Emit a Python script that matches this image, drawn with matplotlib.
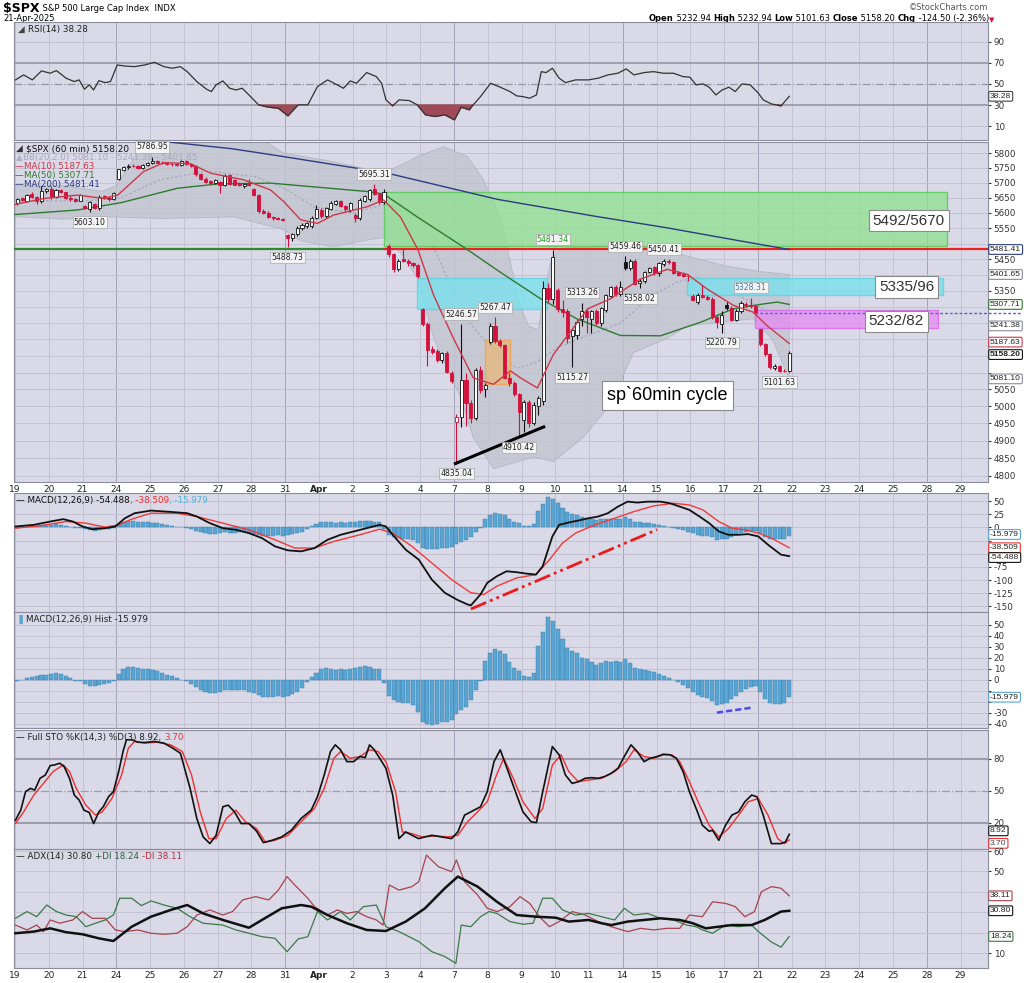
import numpy as np
import matplotlib
matplotlib.use("Agg")
import matplotlib.pyplot as plt
from matplotlib.patches import Rectangle
from matplotlib.ticker import FixedLocator, NullLocator, FixedFormatter

# ---------------- data ----------------
day_labels = ['19', '20', '21', '24', '25', '26', '27', '28', '31', 'Apr', '2', '3', '4', '7',
              '8', '9', '10', '11', '14', '15', '16', '17', '21', '22', '23', '24', '25', '28', '29']
monday_idx = [3, 8, 13, 18, 22, 27]

# hourly candles (open, high, low, close), 7 bars per session, Mar 19 .. Apr 21
candles = [
    (5632, 5650, 5625, 5646), (5648, 5652, 5638, 5642), (5640, 5664, 5636, 5660), (5662, 5668, 5650, 5654), (5652, 5656, 5630, 5638), (5638, 5690, 5632, 5672), (5672, 5684, 5666, 5678),
    (5678, 5690, 5645, 5652), (5652, 5680, 5648, 5675), (5675, 5678, 5665, 5668), (5668, 5670, 5645, 5650), (5650, 5656, 5640, 5645), (5646, 5650, 5636, 5640), (5640, 5662, 5638, 5658),
    (5622, 5626, 5612, 5615), (5612, 5640, 5603.10, 5635), (5628, 5632, 5612, 5617), (5615, 5660, 5610, 5654), (5655, 5660, 5645, 5650), (5650, 5656, 5640, 5646), (5646, 5670, 5642, 5666),
    (5713, 5748, 5710, 5745), (5744, 5755, 5740, 5752), (5752, 5762, 5748, 5758), (5758, 5762, 5752, 5755), (5756, 5760, 5748, 5750), (5750, 5764, 5746, 5760), (5760, 5770, 5756, 5767),
    (5767, 5786.95, 5762, 5772), (5772, 5776, 5765, 5768), (5768, 5772, 5762, 5766), (5767, 5770, 5760, 5763), (5764, 5768, 5758, 5762), (5763, 5766, 5756, 5760), (5760, 5778, 5756, 5775),
    (5772, 5778, 5760, 5764), (5764, 5768, 5752, 5757), (5757, 5760, 5724, 5728), (5728, 5732, 5710, 5714), (5714, 5718, 5700, 5703), (5705, 5710, 5695, 5700), (5700, 5712, 5696, 5710),
    (5702, 5706, 5665, 5693), (5693, 5728, 5688, 5724), (5726, 5730, 5692, 5695), (5708, 5712, 5692, 5694), (5700, 5704, 5690, 5692), (5688, 5700, 5684, 5697), (5698, 5712, 5690, 5693),
    (5678, 5682, 5655, 5660), (5660, 5664, 5600, 5605), (5606, 5612, 5596, 5600), (5600, 5605, 5583, 5586), (5587, 5590, 5578, 5582), (5583, 5588, 5578, 5580), (5581, 5585, 5574, 5578),
    (5527, 5530, 5488.73, 5518), (5518, 5534, 5510, 5530), (5530, 5556, 5526, 5552), (5550, 5566, 5544, 5562), (5558, 5572, 5552, 5568), (5556, 5590, 5550, 5585), (5584, 5625, 5580, 5612),
    (5610, 5615, 5585, 5590), (5590, 5620, 5584, 5616), (5614, 5640, 5610, 5634), (5630, 5642, 5626, 5638), (5638, 5642, 5620, 5624), (5622, 5626, 5605, 5612), (5610, 5636, 5602, 5633),
    (5595, 5600, 5571, 5582), (5582, 5648, 5578, 5642), (5640, 5660, 5636, 5655), (5645, 5680, 5640, 5675), (5678, 5695.31, 5660, 5662), (5662, 5666, 5628, 5635), (5635, 5680, 5630, 5671),
    (5492, 5499, 5458, 5466), (5466, 5470, 5410, 5418), (5418, 5450, 5412, 5445), (5450, 5482, 5440, 5444), (5445, 5450, 5430, 5438), (5438, 5442, 5425, 5432), (5432, 5436, 5390, 5396),
    (5292, 5296, 5240, 5248), (5248, 5252, 5120, 5168), (5172, 5180, 5155, 5162), (5165, 5170, 5132, 5138), (5138, 5162, 5128, 5158), (5160, 5165, 5098, 5102), (5100, 5104, 5068, 5074),
    (4953, 4978, 4835.04, 4969), (4968, 5246.57, 4940, 5078), (5078, 5100, 4942, 5010), (5010, 5020, 4950, 4966), (4966, 5115, 4960, 5108), (5108, 5120, 5040, 5048), (5052, 5068, 5028, 5062),
    (5193, 5250, 5186, 5240), (5240, 5267.47, 5190, 5196), (5194, 5200, 5176, 5182), (5182, 5186, 5080, 5085), (5085, 5098, 5060, 5068), (5068, 5075, 5030, 5035), (5035, 5040, 4910.42, 4982),
    (4960, 5020, 4925, 5012), (5012, 5020, 4940, 4950), (4950, 5012, 4945, 5005), (5000, 5030, 4975, 5025), (5015, 5380, 5005, 5360), (5360, 5375, 5315, 5325), (5325, 5481.34, 5310, 5457),
    (5353, 5360, 5285, 5293), (5295, 5320, 5270, 5284), (5287, 5292, 5190, 5203), (5210, 5236, 5115.27, 5230), (5213, 5260, 5200, 5253), (5262, 5313.26, 5240, 5287), (5287, 5298, 5220, 5268),
    (5262, 5290, 5220, 5286), (5286, 5292, 5245, 5250), (5250, 5300, 5240, 5296), (5290, 5340, 5285, 5336), (5334, 5366, 5328, 5362), (5362, 5368, 5335, 5340), (5340, 5381, 5335, 5363),
    (5441, 5459.46, 5415, 5422), (5422, 5452, 5415, 5446), (5445, 5450, 5368, 5372), (5374, 5388, 5358.02, 5382), (5380, 5414, 5376, 5410), (5410, 5426, 5405, 5422), (5424, 5430, 5400, 5405),
    (5405, 5442, 5398, 5438), (5436, 5450.41, 5428, 5444), (5445, 5450, 5434, 5443), (5440, 5444, 5402, 5408), (5410, 5414, 5396, 5400), (5402, 5406, 5394, 5398), (5398, 5402, 5380, 5396),
    (5335, 5340, 5318, 5322), (5316, 5342, 5310, 5338), (5338, 5367, 5328, 5332), (5332, 5338, 5322, 5326), (5326, 5330, 5262, 5268), (5270, 5275, 5235, 5252), (5248, 5286, 5220.79, 5276),
    (5305, 5314, 5290, 5298), (5298, 5302, 5255, 5258), (5258, 5292, 5255, 5288), (5286, 5318, 5280, 5312), (5310, 5316, 5300, 5305), (5306, 5328.31, 5298, 5302), (5302, 5306, 5280, 5283),
    (5232.94, 5232.94, 5180, 5186), (5186, 5190, 5150, 5155), (5155, 5160, 5112, 5116), (5114, 5126, 5108, 5119), (5120, 5124, 5101.63, 5106), (5106, 5112, 5103, 5104), (5106, 5164, 5102, 5158.20),
]

# overlays (time in bar units, price)
ma10_t = [0, 6, 13, 18.4, 21.3, 26.7, 30.9, 36.4, 40.6, 47.4, 53, 55.7, 59.2, 62.7, 66, 73.1, 76.4, 79.9, 83.5, 86.8,
          90.9, 95, 99.2, 102.7, 104.8, 108.3, 111.6, 118.7, 123.4, 129.6, 135.2, 139.4, 143.5, 148.9, 153, 155.9, 160.5]
ma10_v = [5628, 5648, 5659, 5648, 5659, 5738, 5768, 5764, 5732, 5710, 5676, 5638, 5578, 5566, 5593, 5621, 5643, 5587, 5482, 5336,
          5203, 5084, 5065, 5105, 5084, 5054, 5154, 5294, 5325, 5387, 5418, 5402, 5356, 5305, 5284, 5242, 5187.63]
ma50_t = [0, 13, 22, 33.7, 42, 53, 73, 76.4, 83.4, 93.7, 100.6, 109, 116.5, 125.5, 133.8, 142, 148.9, 155, 158, 160.5]
ma50_v = [5595, 5610, 5634, 5682, 5696, 5699, 5671, 5663, 5587, 5482, 5409, 5325, 5263, 5212, 5211, 5252, 5294, 5309, 5315, 5307.71]
ma200_t = [25, 45, 55, 77, 100, 120, 135, 150, 160.5]
ma200_v = [5850, 5815, 5790, 5733, 5645, 5590, 5552, 5510, 5481.41]
bb_up_t = [0, 10, 18, 21, 24, 26.5, 28, 50, 55.7, 66, 76.4, 80, 83.5, 88.8, 93.8, 97.1, 100.6, 103.3, 104.8, 106.5,
           108.5, 109.5, 111, 113, 125, 135.2, 139.4, 147.6, 155, 160.5]
bb_up_v = [5690, 5690, 5672, 5690, 5765, 5840, 5860, 5860, 5800, 5771, 5734, 5760, 5789, 5822, 5789, 5710, 5587, 5398, 5300, 5240,
           5230, 5330, 5440, 5485, 5495, 5482, 5460, 5428, 5410, 5401.65]
bb_lo_t = [0, 10, 20, 30, 45.4, 55.7, 59.2, 66, 73.1, 76.4, 80, 83.5, 86.8, 92.4, 95, 99.2, 100.6, 107.5, 111.6, 117.8,
           123.4, 128.2, 135.2, 139.4, 153, 157, 160.5]
bb_lo_v = [5588, 5580, 5587, 5582, 5587, 5546, 5509, 5490, 5512, 5520, 5470, 5387, 5203, 5025, 4910, 4820, 4826, 4854, 4840, 4910,
           5005, 5160, 5203, 5242, 5263, 5200, 5081.10]
bb_mid_t = [0, 15, 22, 30, 40, 50, 56, 62, 70, 77, 84, 87.6, 93, 97, 104, 108, 112.4, 116.6, 125.5, 132.3, 137.3, 141.4, 147.6, 155.1, 160.5]
bb_mid_v = [5640, 5640, 5650, 5710, 5740, 5720, 5680, 5620, 5600, 5630, 5580, 5462, 5273, 5203, 5113, 5130, 5175, 5200, 5250, 5338,
            5378, 5393, 5356, 5294, 5241.38]

# labelled highs / lows: (bar, 'hi' or 'lo')
peak_marks = [(28, 'hi'), (15, 'lo'), (74, 'hi'), (56, 'lo'), (92, 'hi'), (99, 'hi'), (91, 'lo'), (104, 'lo'), (111, 'hi'),
              (117, 'hi'), (115, 'lo'), (126, 'hi'), (129, 'lo'), (134, 'hi'), (152, 'hi'), (146, 'lo'), (158, 'lo')]

# drawn annotations
resistance = 5484
zone_green = (76.4, 193.1, 5492, 5670)
zone_cyan_a = (83.4, 110.3, 5294, 5392)
zone_cyan_b = (139.3, 192.4, 5336, 5392)
zone_pink = (153.4, 191.3, 5236, 5289)
zone_orange = (97.4, 102.6, 5065, 5199)
blue_level = 5282
trend_t, trend_p = [91.3, 109.6], [4835, 4940]

rsi_t = [0.1, 1.8, 3.6, 5.5, 7.3, 8.6, 10.6, 12.3, 13.3, 14.4, 15.4, 16.3, 17.4, 18.7, 19.8, 21.2, 22.8, 24.8, 26.9, 28.9,
         30.9, 32.6, 34.3, 35.7, 37.7, 39.7, 40.7, 41.7, 43.1, 44.5, 45.8, 47.1, 48.5, 50.5, 52.6, 54.6, 56.6, 58.7, 60.7, 62.7,
         64.8, 66.8, 68.1, 69.5, 70.8, 72.9, 74.9, 76, 76.9, 78.3, 79.6, 81.7, 83.4, 85.1, 87.1, 89.1, 91.1, 92.5, 94.2, 94.8,
         96.5, 98.6, 100.6, 102.6, 104, 105.3, 106.7, 108.1, 109.1, 110.1, 111.4, 112.8, 114.1, 116.2, 118.9, 120.9, 122.9, 125, 126.7, 128.3,
         130.4, 132.4, 134.4, 136.5, 138.5, 139.9, 141.2, 142.6, 143.9, 145.3, 146.6, 148, 149.3, 150.7, 152.4, 154.1, 155.1, 156.8, 158.8, 160.5]
rsi_v = [53.8, 58.5, 53.8, 62.3, 60.1, 62.6, 55.4, 52.2, 53.8, 45, 49.1, 44.3, 53.1, 51.2, 52.2, 67.9, 66.9, 66.3, 67.9, 70.4,
         66.3, 64.8, 66.3, 61.6, 52.2, 45, 42.8, 49.1, 52.8, 45.9, 44.3, 45.9, 39.6, 30.2, 28, 27, 19.8, 30.2, 30.2, 47.5,
         53.8, 49.1, 45.9, 52.8, 50.6, 60.7, 56.9, 50.6, 34.9, 29.2, 34.9, 34.3, 30.2, 20.8, 19.2, 20.8, 16, 28, 25.5, 29.2,
         38, 50.6, 46.9, 42.8, 38.7, 38, 36.5, 39.6, 61.6, 60.7, 64.8, 55.4, 51.2, 53.8, 53.8, 55.4, 58.5, 60.1, 64.2, 58.5,
         60.7, 61.6, 60.1, 60.1, 56.9, 56.3, 49.1, 50, 46.9, 39.6, 44.3, 46.9, 42.8, 50, 49.1, 41.2, 34.9, 31.1, 29.2, 38.28]

macd_t = [0.1, 3.9, 7.3, 10, 12, 14, 16, 18.8, 20.8, 22.8, 24.8, 28.2, 32.3, 35.7, 37.7, 40.4, 43.1, 45.8, 48.5, 51.2,
          53.9, 56.6, 59.3, 62.1, 64.8, 67.5, 70.2, 72.9, 75.6, 76.9, 78.3, 81, 83.7, 86.4, 89.1, 91.8, 93.8, 94.5, 96.5, 97.9,
          99.9, 101.9, 104, 106, 108, 109.4, 111.4, 112.8, 114.8, 116.8, 118.9, 120.9, 122.9, 125, 127, 129, 131.1, 133.8, 135.8, 137.8,
          139.8, 141.9, 143.9, 145.9, 147.9, 150, 152, 154.1, 156.1, 158.8, 160.5]
macd_v = [1.9, 5, 11.3, 15.8, 11.3, 1.9, -3.2, -1.3, 1.9, 17.6, 27.1, 32.1, 29.6, 27.1, 20.8, 8.2, -1.3, -4.4, -10.7, -20.2,
          -35.9, -43.5, -45.4, -39.1, -23.3, -13.9, -7.6, -1.3, 5, 1.9, -13.9, -42.2, -61.1, -98.9, -124.1, -138, -146.2, -148, -127.3, -105.2,
          -92.6, -83.2, -85, -87.6, -89.5, -73.7, -17, 5, 9.5, 13.2, 17.6, 20.8, 27.1, 39.7, 49.1, 47.3, 49.1, 49.1, 46, 39.7,
          33.4, 20.8, 8.2, -7.6, -13.9, -13.9, -12.6, -17, -32.8, -51.7, -54.488]
signal_t = [0.1, 5.2, 10.6, 14.7, 18.7, 21.5, 24.2, 28.2, 33.6, 37.7, 43.1, 48.5, 53.9, 58, 62.1, 66.1, 71.5, 75.6, 78.3, 82.3,
            86.4, 90.5, 94.5, 97.2, 99.9, 104, 108, 110.8, 113.5, 116.2, 120.2, 124.3, 128.3, 132.4, 136.5, 139.8, 142.6, 145.9, 148.6, 151.3,
            154.1, 156.8, 160.5]
signal_v = [-1.3, 3.2, 11.3, 8.2, 0.6, 5, 15.8, 27.1, 27.1, 20.8, 8.2, -4.4, -23.3, -39.1, -39.1, -26.5, -13.9, -3.2, -10.7, -35.9,
            -67.4, -98.9, -124.1, -127.3, -111.5, -95.8, -89.5, -61.1, -29.6, -10.7, 5, 17.6, 30.2, 41, 46, 42.8, 33.4, 11.3, -1.3, -4.4,
            -10.7, -20.2, -38.509]
hist = [
    -1.5, 0, 1.5, 2, 3, 4, 4.5,
    5, 6, 5, 3, 1.5, -1, -1.5,
    -3.7, -5.5, -6, -4.6, -3.7, -3, -1.5,
    5, 10, 11.7, 11.7, 10.8, 10, 10,
    8.6, 7.7, 6, 4.6, 3, 1.5, 0,
    -1.5, -3.7, -6.8, -9.2, -10.8, -11.7, -11.7,
    -10.8, -9.2, -9.8, -9.8, -9.2, -9.2, -10.8,
    -12.3, -13.8, -15.4, -16, -16, -14.8, -16,
    -14.8, -12.9, -10.8, -7.7, -2.5, 2.5, 6.2,
    9.8, 10.8, 9.8, 9.2, 9.8, 9.2, 9.8,
    10.8, 11.4, 12.3, 11.4, 9.8, 9.8, -3,
    -14.8, -18.5, -20, -21, -21, -23, -29.2,
    -38.5, -40, -41.5, -40, -38.5, -38.5, -37,
    -30.8, -27.7, -24.6, -18.5, -9.2, -1.5, 17,
    24.6, 28.3, 26.2, 23, 16, 10.8, 7.7,
    3, 2.2, 6.2, 30.8, 43.7, 57, 53.8,
    46.2, 37, 29.2, 26.2, 24.6, 20, 18.5,
    16, 13.8, 15.4, 17, 16, 17, 16,
    19, 15.4, 10.8, 9.8, 9.2, 8.3, 6.8,
    5.5, 3.7, 1.5, -0.6, -2.5, -4.6, -7.7,
    -10.8, -13.8, -15.4, -16.3, -19, -23, -22.2,
    -21, -17.8, -14.8, -10.8, -8.6, -6.8, -6.2,
    -10.8, -17.8, -21, -22.2, -22.2, -21, -15.979,
]
macd_trend_t, macd_trend_v = [94.5, 133.1], [-155, -4]
hist_trend_t, hist_trend_v = [145.5, 152.7], [-30, -25.5]

sto_k_t = [0.1, 1.2, 2.2, 3.2, 4.1, 5.2, 6.3, 7.3, 8.2, 9.3, 10.2, 11.3, 12.3, 13.3, 14.3, 15.4, 16.3, 17.4, 18.3, 19.4,
           20.4, 21.5, 22.4, 23.1, 24.2, 25.5, 26.9, 28.9, 30.9, 32.5, 34.3, 36.3, 37.7, 39, 40.4, 41.7, 43.1, 44.2, 45.5, 46.9,
           48.5, 50.1, 51.5, 53.3, 55.3, 57.3, 59.3, 61.4, 62.7, 64.1, 65.4, 66.4, 67.5, 68.8, 70.2, 71.5, 72.6, 73.5, 74.5, 75.6,
           76.9, 78.3, 79.6, 81, 82.3, 83.7, 85, 86.4, 88.4, 90.5, 91.8, 93.2, 94.5, 96.5, 97.9, 99.3, 100.6, 102, 104, 105.3,
           107, 108.1, 109.4, 111.4, 112.8, 114.1, 115.5, 116.8, 118.2, 119.5, 120.9, 122.2, 123.6, 125, 126.3, 127.7, 129, 130.4, 131.7, 133.1,
           134.4, 135.8, 137.1, 138.5, 139.8, 141.2, 142.5, 143.9, 144.6, 145.9, 147.3, 148.6, 150, 151.3, 152.7, 153.8, 155.1, 156.8, 158.8, 159.7,
           160.5]
sto_k_v = [22.2, 31.7, 49.1, 52.2, 50.6, 61.7, 64.8, 73.7, 74.3, 75.9, 72.7, 61.7, 45.9, 41.2, 31.7, 29.5, 19.1, 30.1, 34.9, 44.3,
           49.1, 68, 86.9, 98, 98, 95.7, 95.4, 96.4, 94.8, 90.7, 85.3, 52.2, 23.8, 6.5, 0.2, 8, 34.9, 36.4, 30.1, 19.1,
           19.1, 11.8, 1.1, 3.3, 6.5, 12.8, 23.8, 31.7, 44.3, 64.8, 86.9, 93.2, 88.5, 77.4, 77.4, 82.2, 81.2, 93.2, 88.5, 80.6,
           71.1, 45.9, 4.9, 11.2, 8, 4.9, 6.5, 8, 6.5, 4.9, 11.2, 27, 30.1, 34.9, 49.1, 77.4, 88.5, 71.1, 45.9, 30.1,
           20.7, 20, 49.1, 91.6, 83.8, 64.8, 56.9, 58.5, 61.7, 62.3, 61.7, 63.3, 66.4, 71.1, 82.2, 93.2, 86.9, 77.4, 80.6, 82.2,
           84.4, 83.8, 80.6, 68, 49.1, 33.3, 17.5, 11.8, 12.8, 3.3, 17.5, 27, 30.1, 39.6, 45.9, 44.3, 27, 0.2, 0.2, 1.7,
           8.92]
sto_d_t = [0.1, 1.8, 3.9, 5.9, 7.9, 10, 11.3, 12.7, 14.7, 16.7, 18.1, 20.1, 22.1, 23.5, 24.8, 26.9, 29.6, 32.3, 34.7, 36.6,
           38.4, 40.2, 41.7, 43.8, 45.8, 47.8, 50.1, 51.9, 53.9, 56.6, 59.3, 62.1, 64.1, 66.1, 67.5, 69.5, 71.5, 73.5, 75.3, 76.9,
           78.9, 80.3, 82.3, 84.4, 87.1, 89.8, 91.8, 93.8, 95.9, 97.9, 99.7, 101.3, 103.3, 105.3, 107.8, 109.4, 111.4, 113.2, 114.8, 116.8,
           118.9, 121.6, 124.3, 126.7, 128.3, 130.4, 132.4, 134.4, 136.2, 137.8, 139.8, 141.9, 143.9, 145.9, 147.9, 150, 152, 154.1, 156.1, 158.1,
           159.5, 160.5]
sto_d_v = [19.1, 30.1, 45.9, 56.9, 68, 74.3, 68, 52.2, 36.4, 27, 30.1, 42.7, 64.8, 90.1, 96.4, 94.8, 95.7, 93.2, 86.9, 64.8,
           30.1, 4.9, 4.9, 23.8, 31.7, 20.7, 14.3, 1.7, 3.3, 8, 20.7, 33.3, 52.2, 80.6, 86.9, 80.6, 82.2, 88.5, 86.9, 77.4,
           49.1, 11.2, 9.6, 6.5, 7.4, 6.5, 8, 20.7, 30.1, 39.6, 63.3, 80.6, 61.7, 39.6, 23.8, 33.3, 74.3, 83.8, 68, 58.5,
           60.1, 61.7, 68, 77.4, 88.5, 82.2, 80.6, 83.8, 83.8, 77.4, 58.5, 36.4, 17.5, 6.5, 14.3, 27, 39.6, 42.7, 27, 4.9,
           0.2, 3.70]

adx_t = [0.1, 3.9, 7.3, 10.6, 14, 17.4, 20.4, 24.2, 28.2, 32.3, 35.7, 39, 43.1, 48.5, 51.2, 55.3, 59.3, 61.4, 64.8, 68.8,
         72.9, 76.9, 81, 85, 89.1, 91.8, 95.9, 99.9, 104, 108, 112.1, 114.8, 118.9, 121.6, 123.6, 127, 130.4, 133.8, 137.8, 140.5,
         143.2, 145.9, 148.6, 152.7, 155.4, 158.8, 160.5]
adx_v = [19.8, 20.6, 22.2, 20.3, 19.3, 17.3, 16, 23, 27.9, 31.2, 33.6, 29.5, 26.3, 22.5, 26.3, 32, 33.6, 32.8, 28.7, 24.7,
         21.4, 20.9, 25.5, 32, 41.8, 47.5, 42.6, 35.2, 28.7, 27.9, 27.4, 25.5, 26.3, 24.7, 23.8, 25.5, 26.3, 27.1, 26.3, 24.7,
         22.2, 23, 23.8, 23.8, 26.3, 30.4, 30.80]
pdi_t = [0.1, 2.5, 4.5, 6.6, 8.6, 10.6, 12.7, 14.7, 16.7, 18.7, 20.4, 21.7, 24.2, 26.2, 28.2, 30.9, 33.6, 36.3, 39, 43.1,
         45.8, 48.5, 51.2, 53.9, 56.4, 58.7, 60.7, 62.7, 64.8, 67.5, 69.5, 72.2, 74.9, 76.9, 79.6, 83.7, 86.4, 89.1, 91.4, 92.5,
         94.5, 96.5, 98.3, 99.9, 102.6, 105.3, 107.4, 109.4, 111.4, 113.5, 116.2, 118.9, 121.6, 124.3, 126.3, 128.3, 131.1, 133.8, 136.5, 139.2,
         141.2, 142.5, 144.6, 147.3, 150, 152.7, 154.1, 156.8, 158.8, 160.5]
pdi_v = [27.1, 30.4, 27.9, 33.6, 30.4, 28.7, 27.9, 23, 24.7, 26.3, 28.7, 36.9, 36.9, 33.3, 35.6, 33.6, 32, 27.9, 24.7, 23.8,
         21.4, 19.8, 18.1, 17.3, 10.8, 17, 18.1, 30.4, 26.3, 30.4, 26.3, 32.8, 33.6, 23, 20.6, 15.7, 10.8, 8.4, 5.1, 23.8,
         23, 27.9, 30.4, 29.5, 25.5, 24.2, 24.7, 36.9, 36.9, 31.2, 28.7, 29.5, 27.9, 26.3, 32, 28.7, 29.5, 27.1, 26.3, 23.8,
         23, 21.4, 19.8, 23.8, 23, 23.8, 20.6, 15.5, 13, 18.24]
mdi_t = [0.1, 2.5, 4.5, 5.9, 7.3, 9.3, 12, 14, 16, 18.7, 20.8, 22.8, 25.5, 28.2, 30.9, 33.6, 35.7, 37.7, 40.4, 43.1,
         45.1, 47.2, 49.9, 52.6, 54.6, 56.4, 58, 60.7, 62.1, 64.8, 66.8, 68.8, 70.8, 72.9, 74.9, 76.3, 77.6, 79.6, 82.3, 83.7,
         85.3, 87.8, 90.5, 91.5, 93.2, 95.9, 97.9, 99.9, 102.6, 104.7, 106.7, 108.7, 110.8, 112.8, 115.5, 118.2, 120.9, 123.6, 127, 129.7,
         132.4, 135.1, 137.8, 139.8, 142.5, 144.6, 147.3, 149.3, 151.3, 153.3, 154.7, 156.8, 158.8, 160.5]
mdi_v = [23.8, 21.4, 23.8, 20.6, 26.3, 24.7, 26.3, 30.4, 27.1, 27.1, 21.4, 20.6, 21.4, 19.8, 19.3, 19.8, 23, 28.7, 31.2, 28.7,
         30.4, 36.1, 37.7, 36.1, 40.9, 47.5, 43.4, 36.9, 32.8, 28.7, 31.2, 29.5, 30.4, 27.9, 26.3, 23.8, 43.4, 40.9, 42.6, 45,
         58, 52.3, 49.9, 55.6, 45, 38.5, 32, 30.4, 32.8, 37.7, 34.4, 27.9, 23, 25.5, 30.4, 28.7, 25.5, 23, 20.6, 22.2,
         21.4, 22.2, 22.2, 28.7, 27.9, 35.2, 34.4, 32.8, 27.9, 30.4, 40.1, 42.6, 41.8, 38.11]

# ---------------- styling ----------------
W, H = 1024, 983
BG = '#d9d9e7'
GRID = '#c3c3d4'
GRID_DARK = '#a4a4b8'
RED = '#d4103c'
HBLUE = '#5aa5d2'

plt.rcParams['font.family'] = ['DejaVu Sans']
plt.rcParams['axes.unicode_minus'] = False
fig = plt.figure(figsize=(W / 100, H / 100), dpi=100)


def panel(top, bottom):
    ax = fig.add_axes([14 / W, 1 - bottom / H, 974 / W, (bottom - top) / H])
    ax.set_facecolor(BG)
    ax.set_xlim(-0.2, 201.7)
    for s in ax.spines.values():
        s.set_color('#8c8c9c')
        s.set_linewidth(0.8)
    for k in range(len(day_labels)):
        ax.axvline(7 * k, color=GRID_DARK if k in monday_idx else GRID, lw=0.7, zorder=0)
    ax.yaxis.tick_right()
    ax.tick_params(axis='y', length=2, labelsize=6.3, pad=2, colors='#333333')
    ax.tick_params(axis='x', length=0, labelsize=6.5, pad=2, colors='#222222')
    ax.set_xticks([])
    return ax


def hgrid(ax, vals, color=GRID, lw=0.7, ls='-'):
    for v in vals:
        ax.axhline(v, color=color, lw=lw, ls=ls, zorder=0.5)


def yticks(ax, vals, hidden=()):
    ax.yaxis.set_major_locator(FixedLocator(vals))
    ax.yaxis.set_major_formatter(FixedFormatter(['' if v in hidden else str(v) for v in vals]))
    ax.yaxis.set_minor_locator(NullLocator())


def day_ticks(ax):
    ax.set_xticks([7 * k for k in range(len(day_labels))])
    ax.set_xticklabels(day_labels)
    for t in ax.get_xticklabels():
        if t.get_text() == 'Apr':
            t.set_fontweight('bold')


def tag(ax, v, s, ec, tc='#222222', bold=False, dy=0):
    ax.annotate(s, xy=(1, v), xycoords=('axes fraction', 'data'), xytext=(1.5, dy), textcoords='offset points',
                ha='left', va='center', fontsize=6.1, family='Liberation Sans', color=tc,
                fontweight='bold' if bold else 'normal',
                bbox=dict(boxstyle='round,pad=0.16', fc='white', ec=ec, lw=0.8), annotation_clip=False, zorder=30)


def legend(ax, x, y, parts, size=6.3):
    t = ax.annotate(parts[0][0], xy=(0, 1), xycoords='axes fraction', xytext=(x, -y), textcoords='offset pixels',
                    ha='left', va='top', fontsize=size, color=parts[0][1], zorder=25)
    for s, c in parts[1:]:
        t = ax.annotate(s, xy=(1, 0), xycoords=t, ha='left', va='bottom', fontsize=size, color=c, zorder=25)


# ---------------- header ----------------
hdr = fig.add_axes([0, 0, 1, 1])
hdr.axis('off')
t0 = hdr.annotate('$SPX', xy=(3, H - 2), xycoords='figure pixels', ha='left', va='top', fontsize=9, fontweight='bold')
hdr.annotate(' S&P 500 Large Cap Index  INDX', xy=(1, 0.12), xycoords=t0, ha='left', va='bottom', fontsize=6)
hdr.annotate('21-Apr-2025', xy=(3, H - 14), xycoords='figure pixels', ha='left', va='top', fontsize=6)
hdr.annotate('\u00a9StockCharts.com', xy=(988, H - 3), xycoords='figure pixels', ha='right', va='top', fontsize=6, color='#555555')
ohlc_parts = [('Open', True), (' 5232.94 ', False), ('High', True), (' 5232.94 ', False), ('Low', True), (' 5101.63 ', False),
              ('Close', True), (' 5158.20 ', False), ('Chg', True), (' -124.50 (-2.36%)', False)]
t = hdr.annotate(ohlc_parts[0][0], xy=(649, H - 14), xycoords='figure pixels', ha='left', va='top', fontsize=6, fontweight='bold')
for s, b in ohlc_parts[1:]:
    t = hdr.annotate(s, xy=(1, 0), xycoords=t, ha='left', va='bottom', fontsize=6, fontweight='bold' if b else 'normal')
hdr.annotate('\u25bc', xy=(1, 0), xycoords=t, ha='left', va='bottom', fontsize=5, color=RED)

# ---------------- RSI ----------------
ax = panel(22, 140)
ax.set_ylim(-3, 108.5)
hgrid(ax, [10, 90])
hgrid(ax, [30, 70], color='#9696a6', lw=1.2)
hgrid(ax, [50], color='#9696a6', lw=0.9, ls='-.')
rv = np.array(rsi_v)
ax.fill_between(rsi_t, rv, 30, where=rv < 30, interpolate=True, color='#9e4a58', zorder=2)
ax.plot(rsi_t, rsi_v, color='#333333', lw=0.9, zorder=3)
yticks(ax, [10, 30, 50, 70, 90])
tag(ax, 38.28, '38.28', '#444444')
legend(ax, 4, 3, [('\u25e2 ', '#444444'), ('RSI(14) 38.28', '#222222')])

# ---------------- price ----------------
ax = panel(142, 482)
ax.set_yscale('log')
ax.set_ylim(4783, 5838)
levels = list(range(4800, 5801, 50))
yticks(ax, levels, hidden=(5100, 5150, 5200, 5250, 5300, 5400, 5500))
hgrid(ax, levels)
day_ticks(ax)

ax.fill(list(bb_up_t) + bb_lo_t[::-1], list(bb_up_v) + bb_lo_v[::-1], color='#c2c4d0', alpha=0.8, ec='#adb1be', lw=0.6, zorder=1)
ax.plot(bb_mid_t, bb_mid_v, color='#a0a4b4', lw=0.8, ls=(0, (2, 2)), zorder=1.5)

for (x0, x1, p0, p1), fc, ec in [(zone_green, '#8fe28f', '#4cc84c'), (zone_cyan_a, '#74e2ee', '#55d4e4'),
                                 (zone_cyan_b, '#74e2ee', '#55d4e4'), (zone_pink, '#e88af2', '#d860e8'),
                                 (zone_orange, '#e8b878', '#f0a040')]:
    ax.add_patch(Rectangle((x0, p0), x1 - x0, p1 - p0, fc=fc, ec=ec, lw=1.0, alpha=0.75, zorder=2))

ax.plot([-0.2, zone_green[0]], [resistance, resistance], color='#2e8a2e', lw=1.6, zorder=3)
ax.plot([zone_green[0], 201.7], [resistance, resistance], color='#ee2020', lw=1.6, zorder=3)
ax.plot([zone_pink[0], 208.5], [blue_level, blue_level], color='#5a5af0', lw=1.0, ls=(0, (2, 1.5)), clip_on=False, zorder=3)

ax.plot(ma200_t, ma200_v, color='#2c3c80', lw=1.0, zorder=4)
ax.plot(ma50_t, ma50_v, color='#2e7a2e', lw=1.0, zorder=4)
ax.plot(ma10_t, ma10_v, color='#cc3848', lw=1.0, zorder=7)

o, h, l, c = np.array(candles).T
prev = np.r_[o[0], c[:-1]]
for i in range(len(c)):
    x = i + 0.5
    col = RED if c[i] < prev[i] else '#111111'
    ax.vlines(x, l[i], h[i], color=col, lw=0.8, zorder=5)
    lo_, hi_ = min(o[i], c[i]), max(o[i], c[i])
    if hi_ - lo_ < 2:
        hi_ = lo_ + 2
    fc = 'white' if c[i] >= o[i] else col
    ax.add_patch(Rectangle((x - 0.32, lo_), 0.64, hi_ - lo_, fc=fc, ec=col, lw=0.6, zorder=6))

ax.plot(trend_t, trend_p, color='black', lw=2.2, zorder=8)

for i, side in peak_marks:
    v = h[i] if side == 'hi' else l[i]
    tc = '#2a9a2a' if i == 111 else ('#3a7ab8' if i == 152 else '#222222')
    ax.annotate(f'{v:.2f}', xy=(i + 0.5, v), xytext=(0, 4 if side == 'hi' else -4), textcoords='offset points',
                ha='center', va='bottom' if side == 'hi' else 'top', fontsize=5.6, color=tc,
                bbox=dict(boxstyle='square,pad=0.15', fc='#f3f3f3', ec='#a8a8a8', lw=0.5), zorder=15)

box = dict(boxstyle='square,pad=0.25', fc='white', ec='#8a8a8a', lw=0.8)
ax.text(185.3, 5575, '5492/5670', fontsize=11, family='Liberation Sans', color='#333333', ha='center', va='center', bbox=box, zorder=16)
ax.text(184.8, 5362, '5335/96', fontsize=11, family='Liberation Sans', color='#333333', ha='center', va='center', bbox=box, zorder=16)
ax.text(182.7, 5255, '5232/82', fontsize=11, family='Liberation Sans', color='#333333', ha='center', va='center', bbox=box, zorder=16)
ax.text(135.3, 5032, 'sp`60min cycle', fontsize=13, family='Liberation Sans', color='black', ha='center', va='center',
        bbox=dict(boxstyle='square,pad=0.3', fc='white', ec='#8a8a8a', lw=0.8), zorder=16)

tag(ax, 5481.41, '5481.41', '#2c3c80')
tag(ax, 5401.65, '5401.65', '#8a8aa0')
tag(ax, 5307.71, '5307.71', '#2e7a2e')
tag(ax, 5241.38, '5241.38', '#8a8aa0')
tag(ax, 5187.63, '5187.63', '#cc3848', dy=1)
tag(ax, 5158.20, '5158.20', '#111111', bold=True, dy=-1)
tag(ax, 5081.10, '5081.10', '#8a8aa0')

legend(ax, 2, 2, [('\u25e2 ', '#333333'), ('$SPX (60 min) 5158.20', '#111111')], size=6.4)
legend(ax, 2, 11, [('\u25b2', '#b0b4c2'), ('BB(20,2.0) 5081.10 - 5241.38 - 5401.65', '#a6aabb')])
legend(ax, 1, 20, [('\u2014', '#cc3848'), ('MA(10) 5187.63', '#cc3848')])
legend(ax, 1, 29, [('\u2014', '#2e7a2e'), ('MA(50) 5307.71', '#2e7a2e')])
legend(ax, 1, 38, [('\u2014', '#2c3c80'), ('MA(200) 5481.41', '#2c3c80')])

# ---------------- MACD ----------------
ax = panel(493, 612)
ax.set_ylim(-160.6, 65.5)
mlev = [50, 25, 0, -25, -50, -75, -100, -125, -150]
hgrid(ax, mlev)
yticks(ax, mlev, hidden=(-25, -50))
bars_x = np.arange(len(hist)) + 0.5
ax.bar(bars_x, hist, width=0.85, color=HBLUE, ec='#3a7eaa', lw=0.3, zorder=2)
ax.plot(signal_t, signal_v, color='#f03a3a', lw=1.0, zorder=3)
ax.plot(macd_t, macd_v, color='#111111', lw=1.3, zorder=4)
ax.plot(macd_trend_t, macd_trend_v, color='#ee1a1a', lw=2.0, ls=(0, (6, 1.5, 1, 1.5, 1, 1.5)), zorder=5)
tag(ax, -15.979, '-15.979', HBLUE, dy=1)
tag(ax, -38.509, '-38.509', '#ee3030')
tag(ax, -54.488, '-54.488', '#111111', dy=-1)
legend(ax, 2, 3, [('\u2014 MACD(12,26,9) -54.488', '#111111'), (', -38.509', '#ee3030'), (', -15.979', '#5ab0da')])

# ---------------- MACD histogram ----------------
ax = panel(612, 728)
ax.set_ylim(-44, 61.6)
hlev = [50, 40, 30, 20, 10, 0, -10, -20, -30, -40]
hgrid(ax, hlev)
yticks(ax, hlev, hidden=(-10, -20))
ax.bar(bars_x, hist, width=0.85, color=HBLUE, ec='#3a7eaa', lw=0.3, zorder=2)
ax.plot(hist_trend_t, hist_trend_v, color='#4a4af0', lw=1.8, ls=(0, (2.5, 1.2)), zorder=4)
tag(ax, -15.979, '-15.979', HBLUE)
legend(ax, 2, 3, [('\u2590 ', HBLUE), ('MACD(12,26,9) Hist -15.979', '#222222')])

# ---------------- Full STO ----------------
ax = panel(730, 849)
ax.set_ylim(-4.9, 107.2)
hgrid(ax, [20, 80], color='#9c9cac', lw=1.5)
hgrid(ax, [50], color='#9c9cac', lw=0.9, ls='-.')
yticks(ax, [20, 50, 80])
ax.plot(sto_d_t, sto_d_v, color='#f03030', lw=1.0, zorder=3)
ax.plot(sto_k_t, sto_k_v, color='#111111', lw=1.2, zorder=4)
tag(ax, 8.92, '8.92', '#111111', dy=2.5)
tag(ax, 3.70, '3.70', '#ee3030', tc='#444444', dy=-2.5)
legend(ax, 2, 3, [('\u2014 Full STO %K(14,3) %D(3) 8.92, ', '#222222'), ('3.70', '#ee3030')])

# ---------------- ADX ----------------
ax = panel(849, 968)
ax.set_ylim(2.8, 61)
alev = [10, 20, 30, 40, 50, 60]
hgrid(ax, alev)
yticks(ax, alev, hidden=(20, 30, 40))
day_ticks(ax)
ax.plot(mdi_t, mdi_v, color='#a8424e', lw=0.9, zorder=3)
ax.plot(pdi_t, pdi_v, color='#3a7a46', lw=0.9, zorder=3)
ax.plot(adx_t, adx_v, color='#111111', lw=1.8, zorder=4)
tag(ax, 38.11, '38.11', '#a8424e')
tag(ax, 30.80, '30.80', '#111111')
tag(ax, 18.24, '18.24', '#3a7a46')
legend(ax, 2, 3, [('\u2014 ADX(14) 30.80 ', '#222222'), ('+DI 18.24 ', '#2e5e50'), ('-DI 38.11', '#b03040')])

fig.savefig('out.png', dpi=100)
